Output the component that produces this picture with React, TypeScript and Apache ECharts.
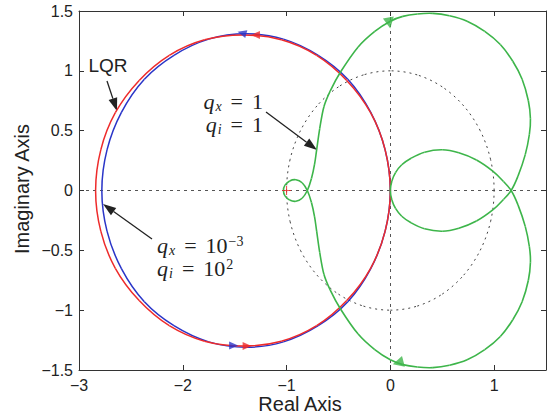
import React, { useEffect, useRef } from "react";
import * as echarts from "echarts";

// ---------- data ----------
const xTicks = [-3, -2, -1, 0, 1];
const yTicks = [-1.5, -1, -0.5, 0, 0.5, 1, 1.5];

const unitCircle: number[][] = [
  [1, 0], [0.966, 0.259], [0.866, 0.5], [0.707, 0.707], [0.5, 0.866], [0.259, 0.966],
  [0, 1], [-0.259, 0.966], [-0.5, 0.866], [-0.707, 0.707], [-0.866, 0.5], [-0.966, 0.259],
  [-1, 0], [-0.966, -0.259], [-0.866, -0.5], [-0.707, -0.707], [-0.5, -0.866], [-0.259, -0.966],
  [0, -1], [0.259, -0.966], [0.5, -0.866], [0.707, -0.707], [0.866, -0.5], [0.966, -0.259], [1, 0],
];

const blueCurve: number[][] = [
  [0, 0], [-0.05, 0.34], [-0.19, 0.655], [-0.41, 0.93], [-0.695, 1.13], [-1.03, 1.265],
  [-1.39, 1.31], [-1.75, 1.265], [-2.085, 1.13], [-2.37, 0.93], [-2.59, 0.655], [-2.73, 0.34],
  [-2.78, 0], [-2.73, -0.34], [-2.59, -0.655], [-2.37, -0.93], [-2.085, -1.13], [-1.75, -1.265],
  [-1.39, -1.31], [-1.03, -1.265], [-0.695, -1.13], [-0.41, -0.93], [-0.19, -0.655], [-0.05, -0.34], [0, 0],
];

const redCurve: number[][] = [
  [0, 0], [-0.05, 0.34], [-0.19, 0.65], [-0.42, 0.92], [-0.71, 1.13], [-1.05, 1.26],
  [-1.42, 1.3], [-1.79, 1.26], [-2.13, 1.13], [-2.42, 0.92], [-2.65, 0.65], [-2.79, 0.34],
  [-2.84, 0], [-2.79, -0.34], [-2.65, -0.65], [-2.42, -0.92], [-2.13, -1.13], [-1.79, -1.26],
  [-1.42, -1.3], [-1.05, -1.26], [-0.71, -1.13], [-0.42, -0.92], [-0.19, -0.65], [-0.05, -0.34], [0, 0],
];

const greenCurve: number[][] = [
  // origin -> upper inner loop -> right crossing
  [0, 0], [0.015, 0.08], [0.05, 0.15], [0.11, 0.215], [0.2, 0.27], [0.33, 0.32], [0.5, 0.34],
  [0.66, 0.315], [0.83, 0.255], [0.99, 0.16], [1.09, 0.075], [1.164, 0],
  // lower outer lobe
  [1.23, -0.12], [1.3, -0.3], [1.34, -0.47], [1.35, -0.6], [1.33, -0.75], [1.27, -0.93],
  [1.18, -1.08], [1.06, -1.22], [0.91, -1.33], [0.74, -1.415], [0.57, -1.46], [0.41, -1.48],
  [0.26, -1.475], [0.12, -1.455], [0, -1.415],
  // lower left branch
  [-0.15, -1.33], [-0.31, -1.2], [-0.48, -0.99], [-0.58, -0.83], [-0.64, -0.7], [-0.68, -0.52],
  [-0.71, -0.34], [-0.73, -0.22], [-0.76, -0.1], [-0.8, 0],
  // small loop
  [-0.85, 0.065], [-0.91, 0.09], [-0.97, 0.08], [-1.015, 0.045], [-1.03, 0], [-1.015, -0.045],
  [-0.97, -0.08], [-0.91, -0.09], [-0.85, -0.065], [-0.8, 0],
  // upper left branch -> upper outer lobe
  [-0.76, 0.1], [-0.73, 0.22], [-0.71, 0.34], [-0.68, 0.52], [-0.64, 0.7], [-0.58, 0.83],
  [-0.48, 0.99], [-0.31, 1.2], [-0.15, 1.33], [0, 1.415], [0.12, 1.455], [0.26, 1.475],
  [0.41, 1.48], [0.57, 1.46], [0.74, 1.415], [0.91, 1.33], [1.06, 1.22], [1.18, 1.08],
  [1.27, 0.93], [1.33, 0.75], [1.35, 0.6], [1.34, 0.47], [1.3, 0.3], [1.23, 0.12], [1.164, 0],
  // lower inner loop -> origin
  [1.09, -0.075], [0.99, -0.16], [0.83, -0.255], [0.66, -0.315], [0.5, -0.34], [0.33, -0.32],
  [0.2, -0.27], [0.11, -0.215], [0.05, -0.15], [0.015, -0.08], [0, 0],
];

// direction markers: [x, y, rotation in degrees]
const blueArrows: number[][] = [[-1.43, 1.316, 75], [-1.51, -1.296, -90]];
const redArrows: number[][] = [[-1.3, 1.3, 90], [-1.38, -1.3, -90]];
const greenArrows: number[][] = [[-0.01, 1.4, 190], [0.075, -1.44, 105]];
const criticalPoint: number[][] = [[-1, 0]];

const RED = "#ee2b2b";
const BLUE = "#2a35c8";
const GREEN = "#3db54a";
const INK = "#222222";

const SANS = '"Liberation Sans", Arial, Helvetica, sans-serif';
const SERIF = '"Liberation Serif", "DejaVu Serif", serif';

function fmtX(v: number): string {
  if (!xTicks.some((t) => Math.abs(t - v) < 1e-9)) return "";
  return String(v).replace("-", "\u2212");
}
function fmtY(v: number): string {
  if (!yTicks.some((t) => Math.abs(t - v) < 1e-9)) return "";
  return String(v).replace("-", "\u2212");
}

function arrowHead(tip: number[], from: number[], len = 13, half = 4.5) {
  const dx = tip[0] - from[0];
  const dy = tip[1] - from[1];
  const d = Math.sqrt(dx * dx + dy * dy);
  const ux = dx / d, uy = dy / d;
  const bx = tip[0] - len * ux, by = tip[1] - len * uy;
  const nx = -uy, ny = ux;
  return {
    line: { x1: from[0], y1: from[1], x2: bx, y2: by },
    points: [tip, [bx + half * nx, by + half * ny], [bx - half * nx, by - half * ny]],
  };
}

// smooth closed curve through the data points (Catmull-Rom -> cubic Bezier), drawn via the axes' scales
function curveSeries(points: number[][], color: string, width: number, z: number, dash?: number[]) {
  return {
    type: "custom",
    coordinateSystem: "cartesian2d",
    data: [0],
    silent: true,
    z,
    renderItem: (_params: any, api: any) => {
      const px: number[][] = points.map((p) => api.coord(p));
      const n = px.length;
      const m = n - 1; // closed: last point repeats first
      const get = (i: number) => px[((i % m) + m) % m];
      const children: any[] = [];
      for (let i = 0; i < n - 1; i++) {
        const p0 = get(i - 1), p1 = px[i], p2 = px[i + 1], p3 = get(i + 2);
        children.push({
          type: "bezierCurve",
          shape: {
            x1: p1[0], y1: p1[1],
            cpx1: p1[0] + (p2[0] - p0[0]) / 6, cpy1: p1[1] + (p2[1] - p0[1]) / 6,
            cpx2: p2[0] - (p3[0] - p1[0]) / 6, cpy2: p2[1] - (p3[1] - p1[1]) / 6,
            x2: p2[0], y2: p2[1],
          },
          style: { stroke: color, lineWidth: width, fill: null, lineDash: dash },
        });
      }
      return { type: "group", children };
    },
  };
}

export default function App() {
  const ref = useRef<HTMLDivElement>(null);

  useEffect(() => {
    document.body.style.margin = "0";
    if (!ref.current) return;
    const chart = echarts.init(ref.current, undefined, { renderer: "svg" });

    const a1 = arrowHead([117, 111], [107, 81]);
    const a2 = arrowHead([317, 150], [266, 112]);
    const a3 = arrowHead([103, 204], [152, 239]);

    const annoLines = [a1, a2, a3].flatMap((a) => [
      { type: "line", shape: a.line, style: { stroke: INK, lineWidth: 1.3 }, silent: true },
      { type: "polygon", shape: { points: a.points }, style: { fill: INK }, silent: true },
    ]);

    const richMath = {
      q: { fontFamily: SERIF, fontStyle: "italic", fontSize: 22, lineHeight: 23, fill: INK, color: INK },
      s: { fontFamily: SERIF, fontStyle: "italic", fontSize: 14, lineHeight: 9, fill: INK, color: INK, verticalAlign: "bottom", padding: [0, 0, 0, 1] },
      eq: { fontFamily: SERIF, fontSize: 22, lineHeight: 23, fill: INK, color: INK, padding: [0, 9, 0, 9] },
      e: { fontFamily: SERIF, fontSize: 22, lineHeight: 23, fill: INK, color: INK },
      p: { fontFamily: SERIF, fontSize: 14, lineHeight: 9, fill: INK, color: INK, verticalAlign: "top", padding: [0, 0, 0, 1] },
    };

    const arrowSeries = (arr: number[][], color: string, size: number[]) => ({
      type: "scatter",
      symbol: "triangle",
      symbolSize: size,
      itemStyle: { color },
      z: 6,
      silent: true,
      data: arr.map((a) => ({ value: [a[0], a[1]], symbolRotate: a[2] })),
    });

    const axisCommon = {
      type: "value",
      axisLine: { show: true, onZero: false, lineStyle: { color: "#333", width: 1 } },
      axisTick: { show: true, inside: true, length: 5, lineStyle: { color: "#333", width: 1 } },
      splitLine: { show: false },
    };

    chart.setOption({
      animation: false,
      grid: { left: 79, right: 1, top: 11, bottom: 47, containLabel: false, outerBoundsMode: "none" },
      xAxis: [
        {
          ...axisCommon, position: "bottom", min: -3, max: 1.5, interval: 1,
          axisLabel: { formatter: fmtX, fontSize: 16, color: INK, fontFamily: SANS, margin: 7 },
        },
        {
          ...axisCommon, position: "top", min: -3, max: 1.5, interval: 1,
          axisLabel: { show: false },
        },
      ],
      yAxis: [
        {
          ...axisCommon, position: "left", min: -1.5, max: 1.5, interval: 0.5,
          axisLabel: { formatter: fmtY, fontSize: 16, color: INK, fontFamily: SANS, margin: 6 },
        },
        {
          ...axisCommon, position: "right", min: -1.5, max: 1.5, interval: 0.5,
          axisLabel: { show: false },
        },
      ],
      series: [
        curveSeries(unitCircle, "#444", 1, 1, [2, 4]),
        curveSeries(blueCurve, BLUE, 1.5, 2),
        curveSeries(redCurve, RED, 1.5, 3),
        curveSeries(greenCurve, GREEN, 1.6, 4),
        arrowSeries(blueArrows, BLUE, [8, 9]),
        arrowSeries(redArrows, RED, [8, 9]),
        arrowSeries(greenArrows, GREEN, [11, 11]),
        {
          type: "scatter", data: criticalPoint, silent: true, z: 6,
          symbol: "path://M4.4,0h1.2v4.4h4.4v1.2h-4.4v4.4h-1.2v-4.4h-4.4v-1.2h4.4z",
          symbolSize: 9, itemStyle: { color: RED },
          markLine: {
            silent: true, symbol: ["none", "none"], label: { show: false }, z: 0,
            lineStyle: { color: "#555", width: 1, type: [3, 4] },
            data: [{ yAxis: 0 }, { xAxis: 0 }],
          },
        },
      ],
      graphic: [
        {
          type: "text", x: 300, y: 404, silent: true,
          style: { text: "Real Axis", font: `20px ${SANS}`, fill: INK, textAlign: "center", textVerticalAlign: "middle" },
        },
        {
          type: "text", x: 22, y: 189, rotation: Math.PI / 2, silent: true,
          style: { text: "Imaginary Axis", font: `20px ${SANS}`, fill: INK, textAlign: "center", textVerticalAlign: "middle" },
        },
        {
          type: "text", x: 108, y: 65, silent: true,
          style: { text: "LQR", font: `19px ${SANS}`, fill: INK, textAlign: "center", textVerticalAlign: "middle" },
        },
        {
          type: "text", x: 263, y: 113, silent: true,
          style: { text: "{q|q}{s|x}{eq|=}{e|1}\n{q|q}{s|i}{eq|=}{e|1}", rich: richMath, textAlign: "right", textVerticalAlign: "middle" },
        },
        {
          type: "text", x: 157, y: 257, silent: true,
          style: { text: "{q|q}{s|x}{eq|=}{e|10}{p|\u22123}\n{q|q}{s|i}{eq|=}{e|10}{p|2}", rich: richMath, textAlign: "left", textVerticalAlign: "middle" },
        },
        ...annoLines,
      ],
    });

    return () => chart.dispose();
  }, []);

  return <div ref={ref} style={{ width: 547, height: 417 }} />;
}
